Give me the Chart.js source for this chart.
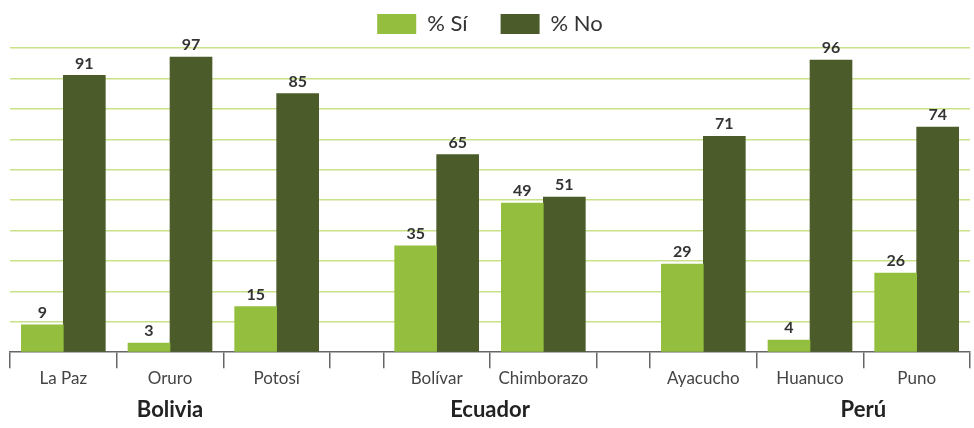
<!DOCTYPE html>
<html>
<head>
<meta charset="utf-8">
<script src="https://cdn.jsdelivr.net/npm/chart.js@4.4.0/dist/chart.umd.min.js"></script>
<style>
  body { margin: 0; background: #fff; }
</style>
</head>
<body>
<canvas id="myChart" width="974" height="428"></canvas>
<script>
// data
const categories = ["La Paz", "Oruro", "Potosí", "Bolívar", "Chimborazo", "Ayacucho", "Huanuco", "Puno"];
const countries = ["Bolivia", "Ecuador", "Perú"];
const groupSizes = [3, 2, 3];
const siValues = [9, 3, 15, 35, 49, 29, 4, 26];
const noValues = [91, 97, 85, 65, 51, 71, 96, 74];
const seriesNames = ["% Sí", "% No"];

// slot layout: each category one unit, half a unit between countries
const GAP = 0.5;
const centers = [];
const bounds = [0];
let pos = 0;
groupSizes.forEach((n, g) => {
  if (g > 0) {
    pos += GAP;
    bounds.push(pos);
  }
  for (let i = 0; i < n; i++) {
    centers.push(pos + 0.5);
    pos += 1;
    bounds.push(pos);
  }
});
const xMax = pos;
const countryTicks = [1.5, 4.5, 8];

const isBound = (v) => bounds.some((b) => Math.abs(b - v) < 1e-6);

const valueLabels = {
  id: "valueLabels",
  afterDatasetsDraw(chart) {
    const ctx = chart.ctx;
    ctx.save();
    ctx.font = "bold 16px Lato";
    ctx.fillStyle = "#333";
    ctx.textAlign = "center";
    ctx.textBaseline = "bottom";
    chart.data.datasets.forEach((ds, i) => {
      chart.getDatasetMeta(i).data.forEach((bar, j) => {
        ctx.fillText(ds.data[j].y, bar.x, bar.y - 4);
      });
    });
    ctx.restore();
  },
};

// legend: wide gap between items but a short box
const legendHeight = {
  id: "legendHeight",
  beforeLayout(chart) {
    const lg = chart.legend;
    if (lg && !lg._patched) {
      const fit = lg.fit.bind(lg);
      lg.fit = function () {
        fit();
        this.height = 68;
      };
      lg._patched = true;
    }
  },
};

let myChart = document.getElementById("myChart").getContext("2d");
let chart = new Chart(myChart, {
  type: "bar",
  data: {
    datasets: [
      {
        label: seriesNames[0],
        data: siValues.map((v, i) => ({ x: centers[i], y: v })),
        backgroundColor: "#93be3e",
      },
      {
        label: seriesNames[1],
        data: noValues.map((v, i) => ({ x: centers[i], y: v })),
        backgroundColor: "#4b5b29",
      },
    ],
  },
  options: {
    responsive: false,
    animation: false,
    barThickness: 42,
    layout: { padding: { top: -20, left: 10, right: 4, bottom: -3 } },
    plugins: {
      legend: {
        position: "top",
        labels: {
          boxWidth: 39,
          boxHeight: 20,
          padding: 33,
          color: "#333",
          font: { family: "Lato", size: 22 },
        },
      },
      tooltip: { enabled: false },
    },
    scales: {
      x: {
        type: "linear",
        min: 0,
        max: xMax,
        offset: false,
        afterBuildTicks: (scale) => {
          const vals = bounds.concat(centers).sort((a, b) => a - b);
          scale.ticks = vals.map((v) => ({ value: v }));
        },
        ticks: {
          autoSkip: false,
          maxRotation: 0,
          padding: 0,
          color: "#444",
          font: { family: "Lato", size: 17 },
          callback: (v) => {
            const i = centers.findIndex((c) => Math.abs(c - v) < 1e-6);
            return i >= 0 ? categories[i] : "";
          },
        },
        grid: {
          offset: false,
          drawOnChartArea: false,
          tickLength: 16,
          lineWidth: 1.5,
          color: (c) => (c.tick && isBound(c.tick.value) ? "#666" : "transparent"),
        },
        border: { color: "#666", width: 1.5 },
      },
      x2: {
        type: "linear",
        position: "bottom",
        min: 0,
        max: xMax,
        offset: false,
        afterBuildTicks: (scale) => {
          scale.ticks = countryTicks.map((v) => ({ value: v }));
        },
        ticks: {
          autoSkip: false,
          maxRotation: 0,
          padding: 8,
          color: "#222",
          font: { family: "Lato", size: 22, weight: "bold" },
          callback: (v) => countries[countryTicks.indexOf(v)],
        },
        grid: { display: false, drawTicks: false },
        border: { display: false },
      },
      y: {
        min: 0,
        max: 100,
        ticks: { display: false, stepSize: 10 },
        grid: {
          drawTicks: false,
          lineWidth: 1.5,
          color: (c) => (c.tick && c.tick.value === 0 ? "transparent" : "#c9e28a"),
        },
        border: { display: false },
      },
    },
  },
  plugins: [valueLabels, legendHeight],
});
</script>
</body>
</html>
